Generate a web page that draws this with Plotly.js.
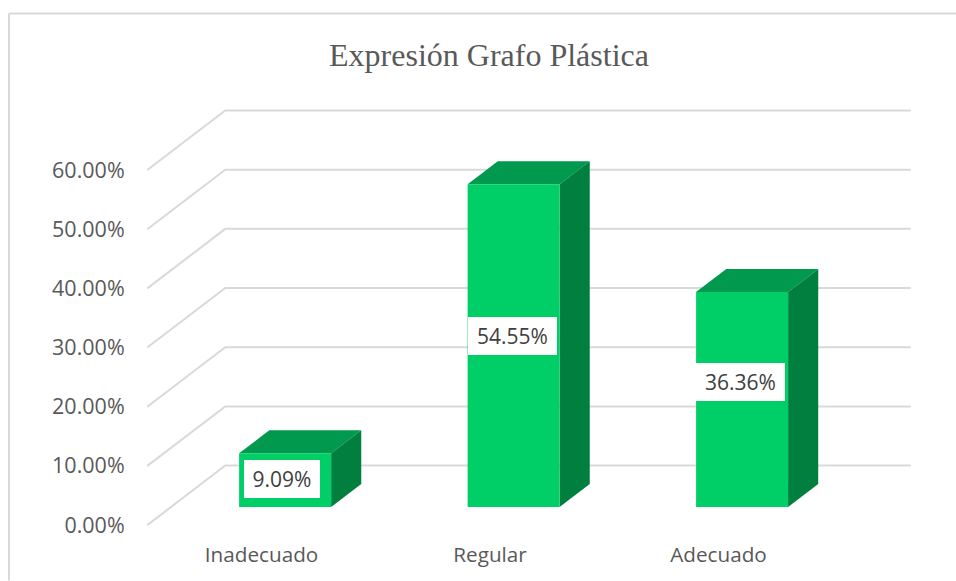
<!DOCTYPE html>
<html><head><meta charset="utf-8">
<script src="https://cdn.plot.ly/plotly-3.0.1.min.js"></script>
<style>html,body{margin:0;padding:0;background:#fff}#c{width:956px;height:581px}</style></head>
<body><div id="c"></div>
<script>
const categories = ["Inadecuado", "Regular", "Adecuado"];
const values = [9.09, 54.55, 36.36];
const valueLabels = ["9.09%", "54.55%", "36.36%"];
const gridValues = [0, 10, 20, 30, 40, 50, 60];
const gridLabels = ["0.00%", "10.00%", "20.00%", "30.00%", "40.00%", "50.00%", "60.00%"];

// Oblique projection used to fake Excel's 3-D column look
const W = 956, H = 581;
const pxPerCat = 228.5, pxPerVal = 5.917;
const depthX = 78 / pxPerCat, depthY = 59.5 / pxPerVal;
const barFront = 0.3025, barBack = 0.689, barW = 0.4026;
const xr = [-0.51, 2.86], yr = [-1, 72];
const zeroPx = 525.5;
const mL = 144.5, mT = zeroPx - 72 * pxPerVal, mB = H - (zeroPx + pxPerVal);
const mR = W - (mL + (xr[1] - xr[0]) * pxPerCat);
const proj = (c, v, d) => [c + d * depthX, v + d * depthY];
const labelShift = [1, 10, 18], labelDx = [-3, -1.5, -1.5];

const traces = [];
gridValues.forEach(v => {
  const p = [proj(-0.5, v, 0), proj(-0.5, v, 1), proj(2.5, v, 1)];
  traces.push({x: p.map(q => q[0]), y: p.map(q => q[1]), mode: 'lines', hoverinfo: 'skip',
    line: {color: '#d9d9d9', width: 2}, showlegend: false});
});
function poly(pts, color) {
  traces.push({x: pts.map(q => q[0]).concat(pts[0][0]), y: pts.map(q => q[1]).concat(pts[0][1]),
    mode: 'lines', fill: 'toself', fillcolor: color, line: {width: 0, color: color},
    hoverinfo: 'skip', showlegend: false});
}
categories.forEach((_, i) => {
  const l = i - barW / 2, r = i + barW / 2, v = values[i];
  poly([proj(l, v, barFront), proj(r, v, barFront), proj(r, v, barBack), proj(l, v, barBack)], '#00994d');
  poly([proj(r, 0, barFront), proj(r, 0, barBack), proj(r, v, barBack), proj(r, v, barFront)], '#007f3f');
  poly([proj(l, 0, barFront), proj(r, 0, barFront), proj(r, v, barFront), proj(l, v, barFront)], '#00ce66');
});

const annotations = categories.map((_, i) => {
  const p = proj(i, values[i] / 2, barFront);
  return {x: p[0], y: p[1], xref: 'x', yref: 'y', text: valueLabels[i], showarrow: false,
    xshift: labelDx[i], yshift: labelShift[i], width: i === 0 ? 76 : 89, height: 38,
    bgcolor: '#ffffff', borderpad: 0, borderwidth: 0, align: 'center', valign: 'middle',
    font: {family: '"Open Sans", sans-serif', size: 21, color: '#404040'}};
});

const frame = {color: '#d9d9d9', width: 2};
const pw = W - mL - mR, ph = H - mT - mB;
const fx = px => (px - mL) / pw, fy = py => 1 - (py - mT) / ph;
const shapes = [
  {type: 'line', xref: 'paper', yref: 'paper', x0: fx(8.5), x1: fx(956), y0: fy(14), y1: fy(14), line: frame, layer: 'below'},
  {type: 'line', xref: 'paper', yref: 'paper', x0: fx(8.5), x1: fx(8.5), y0: fy(14), y1: fy(581), line: frame, layer: 'below'}
];

Plotly.newPlot('c', traces, {
  width: W, height: H, showlegend: false, paper_bgcolor: '#fff', plot_bgcolor: 'rgba(0,0,0,0)',
  margin: {l: mL, r: mR, t: mT, b: mB, pad: 0},
  title: {text: 'Expresión Grafo Plástica', x: 489 / W, xanchor: 'center', y: 1 - 55 / H, yanchor: 'middle',
    font: {family: '"Liberation Serif", serif', size: 32, color: '#595959'}},
  xaxis: {type: 'linear', range: xr, tickmode: 'array', tickvals: [0, 1, 2], ticktext: categories,
    showgrid: false, zeroline: false, showline: false, ticks: 'outside', ticklen: 5, tickcolor: 'rgba(0,0,0,0)',
    tickfont: {family: '"Open Sans", sans-serif', size: 20.7, color: '#595959'}},
  yaxis: {type: 'linear', range: yr, tickmode: 'array', tickvals: gridValues, ticktext: gridLabels,
    showgrid: false, zeroline: false, showline: false, ticks: 'outside', ticklen: 15, tickcolor: 'rgba(0,0,0,0)',
    tickfont: {family: '"Open Sans", sans-serif', size: 21.5, color: '#595959'}},
  annotations, shapes
}, {displayModeBar: false, staticPlot: true});
</script></body></html>
